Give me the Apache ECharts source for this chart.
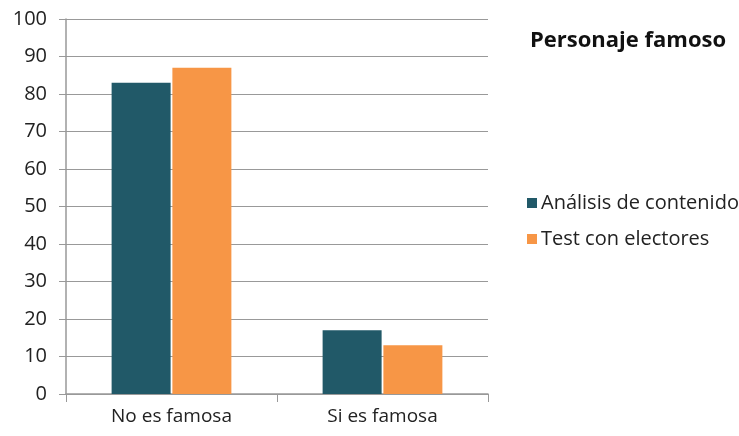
<!DOCTYPE html>
<html>
<head>
<meta charset="utf-8">
<script src="https://cdn.jsdelivr.net/npm/echarts@6/dist/echarts.min.js"></script>
<style>
  html, body { margin: 0; padding: 0; background: #fff; }
  #chart { width: 739px; height: 436px; }
</style>
</head>
<body>
<div id="chart"></div>
<script>
var categories = ['No es famosa', 'Si es famosa'];
var analisis = [83, 17];
var electores = [87, 13];
var yTicks = { min: 0, max: 100, interval: 10 };

var chart = echarts.init(document.getElementById('chart'));
chart.setOption({
  animation: false,
  textStyle: { fontFamily: 'Open Sans' },
  title: {
    text: 'Personaje famoso',
    left: 525,
    top: 25,
    textStyle: { fontSize: 22, fontWeight: 'bold', color: '#111' }
  },
  legend: {
    orient: 'vertical',
    left: 522,
    top: 188,
    itemWidth: 10,
    itemHeight: 10,
    itemGap: 16,
    icon: 'rect',
    textStyle: { fontSize: 20, color: '#222', padding: [0, 0, 0, -1] },
    data: ['Análisis de contenido', 'Test con electores']
  },
  grid: { left: 66, right: 251, top: 19, bottom: 42 },
  xAxis: {
    type: 'category',
    data: categories,
    axisLine: { lineStyle: { color: '#999', width: 1.5 } },
    axisTick: { show: true, length: 8, lineStyle: { color: '#999' } },
    axisLabel: { fontSize: 19, color: '#222', margin: 13 }
  },
  yAxis: {
    type: 'value',
    min: yTicks.min,
    max: yTicks.max,
    interval: yTicks.interval,
    axisLine: { show: true, lineStyle: { color: '#999', width: 1.5 } },
    axisTick: { show: true, length: 7, lineStyle: { color: '#999' } },
    axisLabel: { fontSize: 20, color: '#222', margin: 19 },
    splitLine: { lineStyle: { color: '#999', width: 1.2 } }
  },
  series: [
    {
      name: 'Análisis de contenido',
      type: 'bar',
      data: analisis,
      barWidth: 59,
      barGap: '3%',
      itemStyle: { color: '#215968' }
    },
    {
      name: 'Test con electores',
      type: 'bar',
      data: electores,
      barWidth: 59,
      itemStyle: { color: '#F79646' }
    }
  ]
});
</script>
</body>
</html>
